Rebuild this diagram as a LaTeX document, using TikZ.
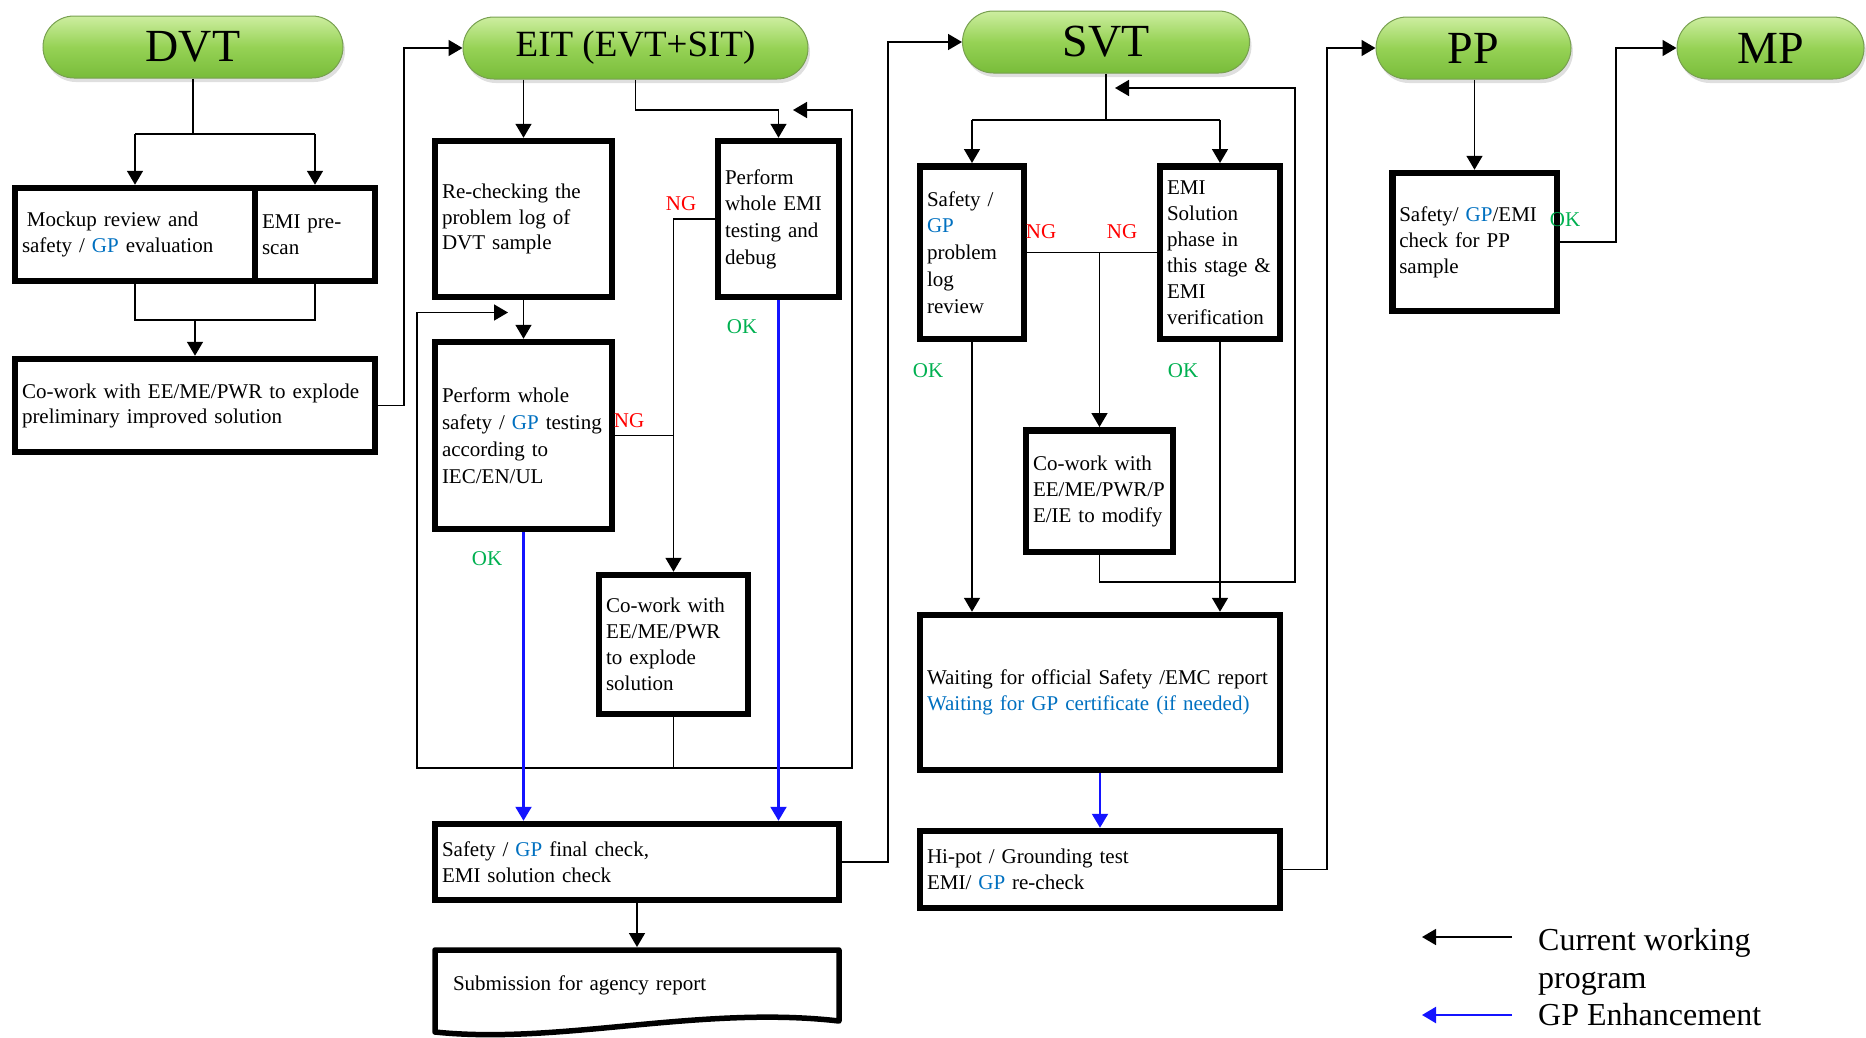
\documentclass[tikz,border=0pt]{standalone}
\usepackage{fontspec}
\setmainfont{Liberation Serif}
\usetikzlibrary{arrows.meta,shapes.misc,shadows}
\definecolor{gpblue}{RGB}{0,112,192}
\definecolor{ngred}{RGB}{255,0,0}
\definecolor{okgreen}{RGB}{0,176,80}
\definecolor{pilltop}{RGB}{205,238,160}
\definecolor{pillmid}{RGB}{150,210,85}
\definecolor{pillbot}{RGB}{120,188,58}
\definecolor{pillline}{RGB}{120,160,80}
\definecolor{lineblue}{RGB}{20,20,255}
\newcommand{\gp}{\textcolor{gpblue}{GP}}
\begin{document}
\begin{tikzpicture}[x=1pt,y=-1pt,
  pill/.style={rounded rectangle, draw=pillline, line width=1pt, top color=pilltop, bottom color=pillbot, middle color=pillmid,
    drop shadow={shadow xshift=2pt, shadow yshift=-4pt, opacity=0.25}, inner sep=0pt},
  box/.style={draw, line width=6.5pt, inner xsep=7pt, inner ysep=0pt, align=left, font=\fontsize{21}{26}\selectfont},
  ln/.style={line width=1.6pt},
  arr/.style={line width=1.6pt, -{Triangle[width=16pt,length=14pt]}},
  barr/.style={line width=2.2pt, lineblue, -{Triangle[width=16pt,length=14pt]}},
  lbl/.style={font=\fontsize{21}{24}\selectfont, inner sep=0pt},
  lgd/.style={anchor=base west, inner sep=0pt, font=\fontsize{32}{37}\selectfont},
]
\useasboundingbox (0,0) rectangle (1866,1037);

% phase pills
\node[pill, minimum width=300pt, minimum height=62pt, font=\fontsize{46}{46}\selectfont] (dvt) at (193,47) {DVT};
\node[pill, minimum width=345pt, minimum height=62pt, font=\fontsize{37}{37}\selectfont] (eit) at (635.5,48) {EIT (EVT+SIT)};
\node[pill, minimum width=287pt, minimum height=62pt, font=\fontsize{46}{46}\selectfont] (svt) at (1106,42) {SVT};
\node[pill, minimum width=195pt, minimum height=62pt, font=\fontsize{46}{46}\selectfont] (pp) at (1473.5,48) {PP};
\node[pill, minimum width=187pt, minimum height=62pt, font=\fontsize{46}{46}\selectfont] (mp) at (1770.5,48) {MP};

% DVT column
\node[box, text width=226pt, minimum height=93pt] (mock) at (135,234.5) {\hspace{5pt}Mockup review and\\safety / \gp{} evaluation};
\node[box, text width=106pt, minimum height=93pt] (emip) at (315,234.5) {EMI pre-\\scan};
\node[box, text width=346pt, minimum height=93pt, font=\fontsize{21}{25}\selectfont] (cw1) at (195,405.5) {Co-work with EE/ME/PWR to explode\\preliminary improved solution};

% EIT column
\node[box, text width=163pt, minimum height=156pt, font=\fontsize{21}{25.5}\selectfont] (rechk) at (523.5,219) {Re-checking the\\problem log of\\DVT sample};
\node[box, text width=163pt, minimum height=187pt, font=\fontsize{21}{27}\selectfont] (perf) at (523.5,435.5) {Perform whole\\safety / \gp{} testing\\according to\\IEC/EN/UL};
\node[box, text width=107pt, minimum height=156pt, font=\fontsize{21}{26.7}\selectfont] (emit) at (778.5,219) {Perform\\whole EMI\\testing and\\debug};
\node[box, text width=135pt, minimum height=139pt] (cw2) at (673.5,644.5) {Co-work with\\EE/ME/PWR\\to explode\\solution};
\node[box, text width=390pt, minimum height=76pt] (final) at (637,862) {Safety / \gp{} final check,\\EMI solution check};
\node[inner xsep=18pt, inner ysep=0pt, outer sep=0pt, text width=368pt, minimum height=76pt, align=left,
  font=\fontsize{21}{24.5}\selectfont] (submit) at (637,985) {Submission for agency report};
\draw[line width=5.5pt, line join=round] (435,950) -- (839,950) -- (839,1021)
  .. controls (700,1005) and (560,1045) .. (435,1032) -- cycle;

% SVT column
\node[box, text width=90pt, minimum height=172.5pt, font=\fontsize{21}{26.8}\selectfont] (sgp) at (972,252.5) {Safety /\\\gp\\problem\\log\\review};
\node[box, text width=106pt, minimum height=172.5pt] (emis) at (1220,252.5) {EMI\\Solution\\phase in\\this stage \&\\EMI\\verification};
\node[box, text width=133pt, minimum height=121.5pt] (cw3) at (1099.5,491) {Co-work with\\EE/ME/PWR/P\\E/IE to modify};
\node[box, text width=346pt, minimum height=155pt] (wait) at (1100,692.5) {Waiting for official Safety /EMC report\\\textcolor{gpblue}{Waiting for GP certificate (if needed)}};
\node[box, text width=346pt, minimum height=77pt] (hipot) at (1100,869.5) {Hi-pot / Grounding test\\EMI/ \gp{} re-check};

% PP column
\node[box, text width=150.5pt, minimum height=138pt] (ppbox) at (1474.5,242) {Safety/ \gp/EMI\\check for PP\\sample};

% labels
\node[lbl, text=ngred] (ng1) at (681,203.5) {NG};
\node[lbl, text=ngred] (ng2) at (629,421) {NG};
\node[lbl, text=okgreen] (ok1) at (742,327) {OK};
\node[lbl, text=okgreen] (ok2) at (487,559) {OK};
\node[lbl, text=ngred] (ng3) at (1041,231.5) {NG};
\node[lbl, text=ngred] (ng4) at (1122,231.5) {NG};
\node[lbl, text=okgreen] (ok3) at (928,371) {OK};
\node[lbl, text=okgreen] (ok4) at (1183,371) {OK};
\node[lbl, text=okgreen] (ok5) at (1565,220) {OK};

% DVT connectors
\coordinate (j1) at (193,134); \coordinate (j1l) at (135,134); \coordinate (j1r) at (315,134);
\draw[ln] (dvt.south) -- (j1);
\draw[ln] (j1l) -- (j1r);
\draw[arr] (j1l) -- (mock.north);
\draw[arr] (j1r) -- (emip.north);
\coordinate (j2l) at (135,320); \coordinate (j2r) at (315,320); \coordinate (j2) at (195,320);
\draw[ln] (mock.south) -- (j2l) -- (j2r) -- (emip.south);
\draw[arr] (j2) -- (cw1.north);
\coordinate (k1) at (404,405.5);
\draw[arr] (cw1.east) -- (k1) |- (eit.west);

% EIT connectors
\draw[arr] (eit.south -| rechk.north) -- (rechk.north);
\coordinate (k2) at (635.5,110);
\draw[arr] (eit.south) -- (k2) -| (emit.north);
\draw[arr] (rechk.south) -- (perf.north);
\coordinate (k3) at (673.5,219);
\draw[arr] (emit.west) -- (k3) -- (cw2.north);
\coordinate (k4) at (673.5,435.5);
\draw[ln] (perf.east) -- (k4);
\coordinate (k5) at (673.5,768); \coordinate (k6) at (852,768); \coordinate (k7) at (852,110); \coordinate (k8) at (793,110);
\draw[arr] (cw2.south) -- (k5) -- (k6) -- (k7) -- (k8);
\coordinate (k9) at (417,768); \coordinate (k10) at (417,312.5); \coordinate (k11) at (508,312.5);
\draw[arr] (k5) -- (k9) -- (k10) -- (k11);
\draw[barr] (perf.south) -- (perf.south |- final.north);
\draw[barr] (emit.south) -- (emit.south |- final.north);
\draw[arr] (final.south) -- (submit.north);
\coordinate (k12) at (888,862);
\draw[arr] (final.east) -- (k12) |- (svt.west);

% SVT connectors
\coordinate (m1) at (1106,120); \coordinate (m1l) at (972,120); \coordinate (m1r) at (1220,120);
\draw[ln] (svt.south) -- (m1);
\draw[ln] (m1l) -- (m1r);
\draw[arr] (m1l) -- (sgp.north);
\draw[arr] (m1r) -- (emis.north);
\draw[ln] (sgp.east) -- (emis.west);
\coordinate (m2) at (1099.5,252.5);
\draw[arr] (m2) -- (cw3.north);
\coordinate (m3) at (1099.5,582); \coordinate (m4) at (1295,582); \coordinate (m5) at (1295,88); \coordinate (m6) at (1115,88);
\draw[arr] (cw3.south) -- (m3) -- (m4) -- (m5) -- (m6);
\draw[arr] (sgp.south) -- (sgp.south |- wait.north);
\draw[arr] (emis.south) -- (emis.south |- wait.north);
\draw[barr] (wait.south) -- (hipot.north);
\coordinate (m7) at (1327,869.5);
\draw[arr] (hipot.east) -- (m7) |- (pp.west);

% PP connectors
\draw[arr] (pp.south -| ppbox.north) -- (ppbox.north);
\coordinate (p1) at (1616,242);
\draw[arr] (ppbox.east) -- (p1) |- (mp.west);

% legend
\coordinate (lgA1) at (1512,937); \coordinate (lgA2) at (1422,937);
\draw[arr] (lgA1) -- (lgA2);
\coordinate (lgB1) at (1512,1015); \coordinate (lgB2) at (1422,1015);
\draw[barr] (lgB1) -- (lgB2);
\node[lgd] (lg1) at (1538,950) {Current working};
\node[lgd] (lg2) at (1538,988) {program};
\node[lgd] (lg3) at (1538,1025) {GP Enhancement};
\end{tikzpicture}
\end{document}
